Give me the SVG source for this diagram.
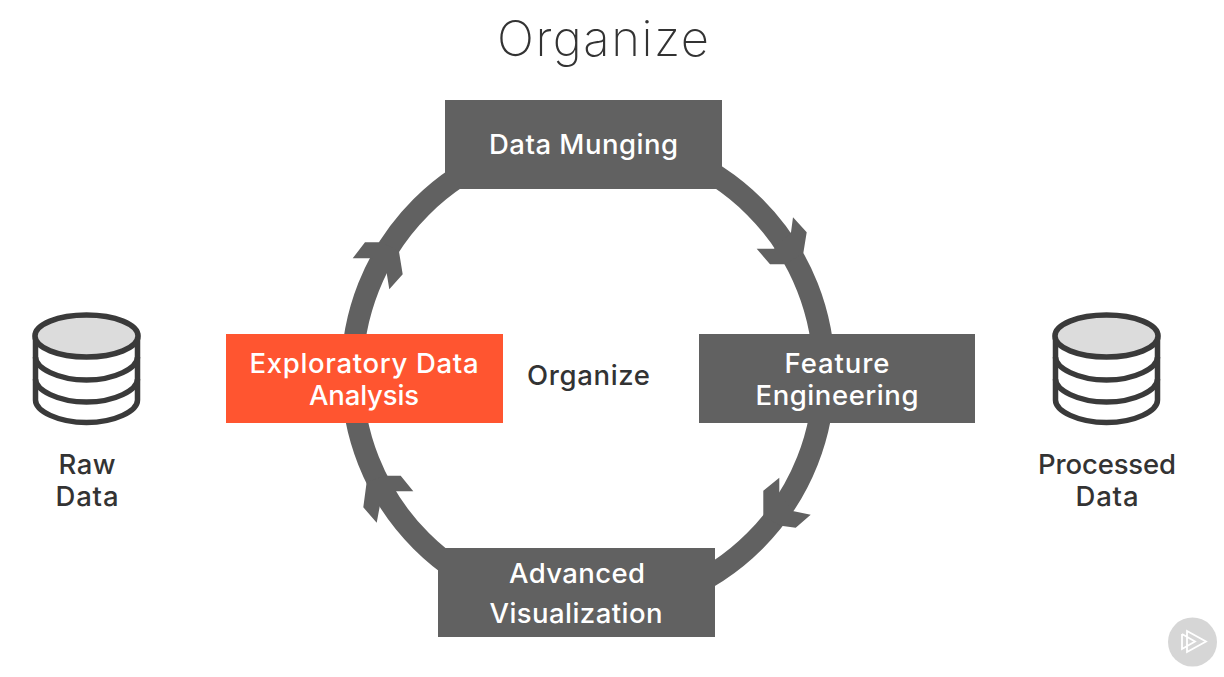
<svg xmlns="http://www.w3.org/2000/svg" width="1224" height="677" viewBox="0 0 1224 677">
<style>
text{font-family:"Inter","Liberation Sans",sans-serif;text-anchor:middle;font-size:27.500px;font-weight:500;fill:#333}
.w{fill:#fff}
.box{fill:#616161}
.ring{fill:none;stroke:#616161;stroke-width:22}
.head{fill:#616161}
.db{fill:#fff;stroke:#3a3a3a;stroke-width:5.500}
.lid{fill:#dcdcdc;stroke:#3a3a3a;stroke-width:5.500}
</style>
<defs>
<g id="cyl">
<path class="db" d="M35.500 336V400C35.500 411 58 422.500 86.500 422.500S137.500 411 137.500 400V336Z"/>
<path class="db" style="fill:none" d="M35.500 357C35.500 368 58 380 86.500 380S137.500 368 137.500 357M35.500 379C35.500 390 58 402 86.500 402S137.500 390 137.500 379"/>
<ellipse class="lid" cx="86.500" cy="336" rx="51.500" ry="21"/>
</g>
</defs>
<rect width="1224" height="677" fill="#fff"/>
<text id="title" x="603" y="56" style="font-size:49px;font-weight:250" textLength="212">Organize</text>
<g id="connectors">
<circle class="ring" cx="588" cy="374" r="236"/>
<polygon class="head" points="352.700,258.300 365,242.300 381.700,242.300 399,251.700 402.700,274.300 389.300,289.300 386.700,273.300 371.700,258.300"/>
<polygon class="head" points="756.700,248.700 774,248.700 791,232.300 793,217.300 806.700,232.300 803.300,253.300 785,264.300 770,264.300"/>
<polygon class="head" points="779.300,477.700 779.300,493.300 792.700,511 810.700,514.700 795.700,527.700 781,525.700 763.300,516.700 763.300,490.700"/>
<polygon class="head" points="413.300,491.300 395,491.300 380,505 376.700,522.700 363.300,507.300 366.700,481.700 386,475.700 400.700,475.700"/>
</g>
<g id="munging"><rect class="box" x="445" y="100" width="277" height="89"/><text class="w" x="583.500" y="154" textLength="189">Data Munging</text></g>
<g id="feature"><rect class="box" x="699" y="334" width="276" height="89"/><text class="w" x="837" y="373" textLength="105">Feature</text><text class="w" x="837" y="405" textLength="163">Engineering</text></g>
<g id="eda"><rect x="226" y="334" width="277" height="89" fill="#ff5530"/><text class="w" x="364" y="373" textLength="229">Exploratory Data</text><text class="w" x="364" y="405" textLength="110">Analysis</text></g>
<g id="advanced"><rect class="box" x="438" y="548" width="277" height="89"/><text class="w" x="577" y="583" textLength="136">Advanced</text><text class="w" x="576" y="623" textLength="173">Visualization</text></g>
<g id="organize-label"><text x="588.500" y="385" textLength="123">Organize</text></g>
<g id="raw"><use href="#cyl"/><text x="87" y="474" textLength="57">Raw</text><text x="87" y="506" textLength="63">Data</text></g>
<g id="processed"><use href="#cyl" x="1020"/><text x="1107" y="474" textLength="138">Processed</text><text x="1107" y="506" textLength="63">Data</text></g>
<g id="logo"><circle cx="1192.500" cy="642" r="24.500" fill="#d6d6d6"/><path d="M1187 631V652L1206 641.500ZM1182 634V649L1195 641.500L1182 634" fill="none" stroke="#fff" stroke-width="1.800"/></g>
</svg>
